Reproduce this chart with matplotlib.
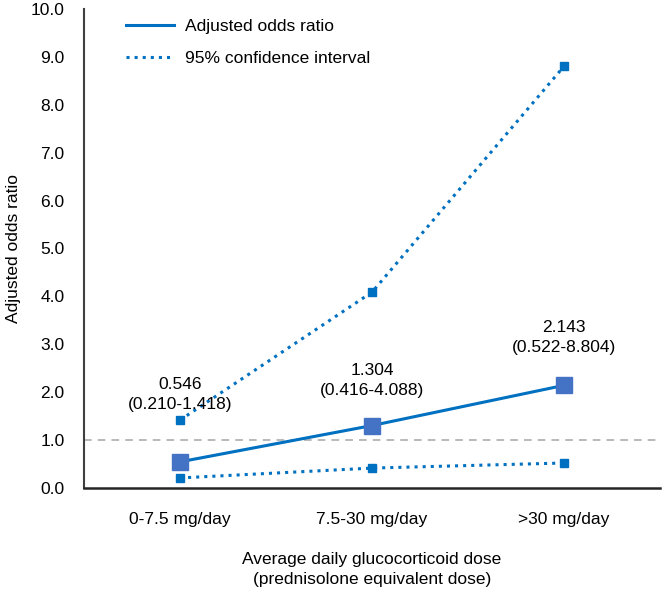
import matplotlib
matplotlib.use("Agg")
import matplotlib.pyplot as plt

plt.rcParams['font.family'] = ['Liberation Sans', 'DejaVu Sans']

doses = ['0-7.5 mg/day', '7.5-30 mg/day', '>30 mg/day']
odds = [0.546, 1.304, 2.143]
ci_low = [0.210, 0.416, 0.522]
ci_high = [1.418, 4.088, 8.804]

FS = 12.5
fig = plt.figure(figsize=(6.63, 5.92), dpi=100)
ax = fig.add_axes([84 / 663, 1 - 488 / 592, 576 / 663, 479 / 592])

x = range(len(doses))
ax.axhline(1.0, color='#a6a6a6', linestyle=(0, (5, 4)), linewidth=1.1, zorder=1)
ax.plot(x, odds, color='#0070C0', linewidth=2.2, marker='s', markersize=11,
        markerfacecolor='#4472C4', markeredgecolor='#4472C4',
        label='Adjusted odds ratio', zorder=3)
ax.plot(x, ci_high, color='#0070C0', linewidth=2.2, linestyle=':', marker='s',
        markersize=5.5, label='95% confidence interval', zorder=2)
ax.plot(x, ci_low, color='#0070C0', linewidth=2.2, linestyle=':', marker='s',
        markersize=5.5, zorder=2)

# label offsets above each point (points)
offsets = [36, 20, 22]
for i in x:
    ax.annotate('{:.3f}\n({:.3f}-{:.3f})'.format(odds[i], ci_low[i], ci_high[i]),
                (i, odds[i]), xytext=(0, offsets[i]), textcoords='offset points',
                ha='center', va='bottom', fontsize=FS, linespacing=1.4)

ax.set_xlim(-0.5, 2.5)
ax.set_ylim(0, 10)
ax.set_yticks([i for i in range(11)])
ax.set_yticklabels(['{:.1f}'.format(v) for v in range(11)])
ax.set_xticks(list(x))
ax.set_xticklabels(doses)
ax.tick_params(length=0, labelsize=FS, colors='black')
ax.tick_params(axis='x', pad=17)
ax.tick_params(axis='y', pad=14)
for s in ['top', 'right']:
    ax.spines[s].set_visible(False)
ax.spines['left'].set_color('#404040')
ax.spines['left'].set_linewidth(1.5)
ax.spines['bottom'].set_color('#262626')
ax.spines['bottom'].set_linewidth(1.8)

ax.set_ylabel('Adjusted odds ratio', fontsize=FS, labelpad=7)
ax.set_xlabel('Average daily glucocorticoid dose\n(prednisolone equivalent dose)',
              fontsize=FS, labelpad=18, linespacing=1.45)

ax.legend(loc='upper left', bbox_to_anchor=(0.045, 1.012), frameon=False,
          fontsize=FS, handlelength=2.8, handletextpad=0.65, labelspacing=0.95,
          markerscale=0)

fig.savefig('out.png', dpi=100)
